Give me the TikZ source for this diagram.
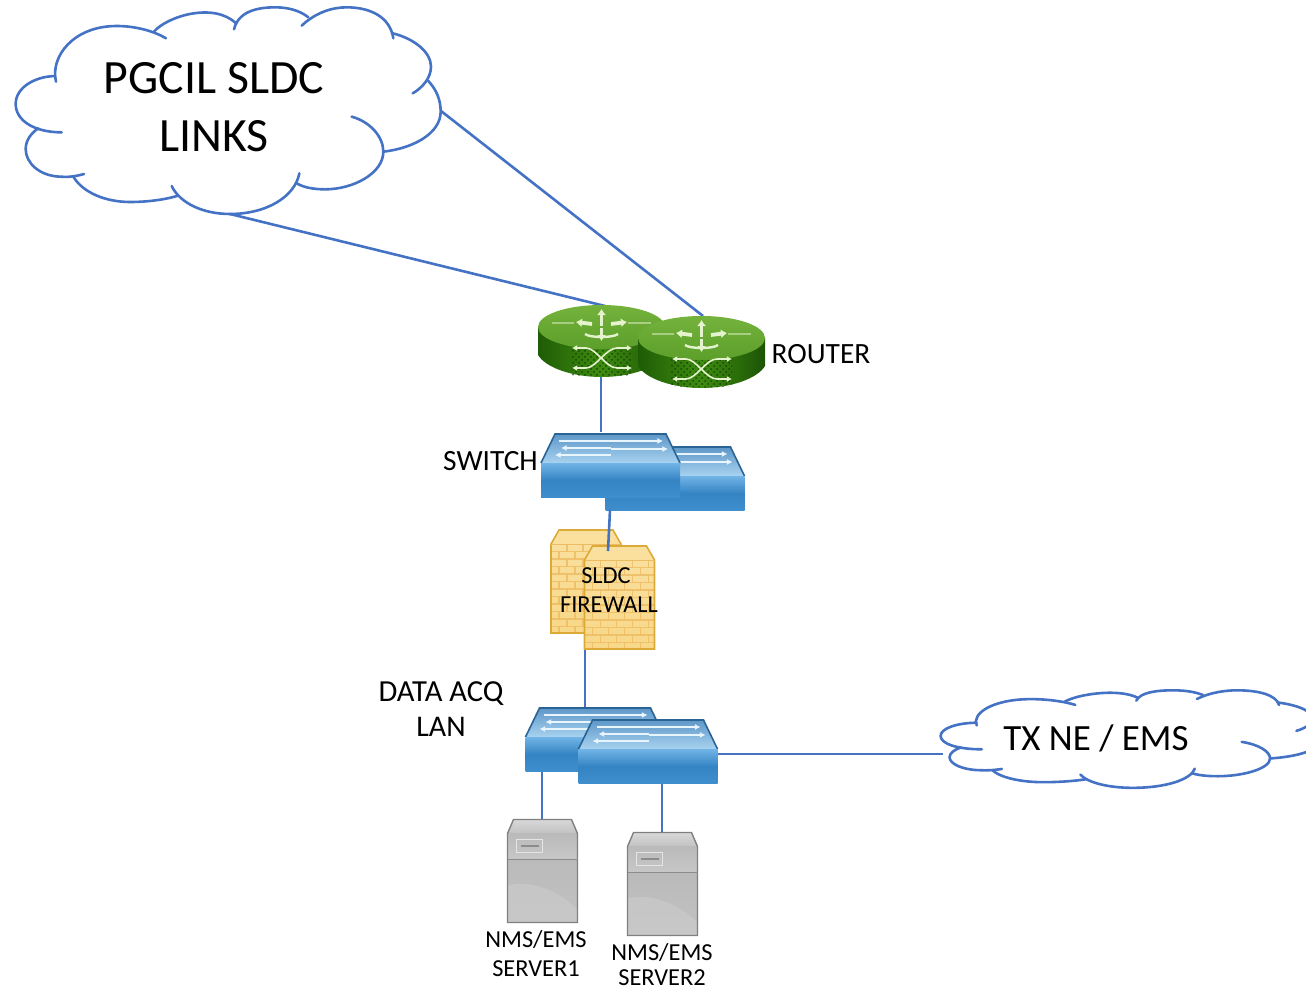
\documentclass[tikz,border=0pt]{standalone}
\usepackage{fontspec}
\setmainfont{Carlito}
\usetikzlibrary{arrows.meta,patterns}
\definecolor{linkblue}{HTML}{4472C4}
\definecolor{rtTopA}{HTML}{74B23C}
\definecolor{rtTopB}{HTML}{5C9F2A}
\definecolor{rtEdgeL}{HTML}{1F5C06}
\definecolor{rtMid}{HTML}{3E8C10}
\definecolor{rtEdgeR}{HTML}{1C5405}
\definecolor{rtDot}{HTML}{174A03}
\definecolor{rtPale}{HTML}{E4F3CE}
\definecolor{swEdge}{HTML}{2A6496}
\definecolor{swTopA}{HTML}{5E97C8}
\definecolor{swTopB}{HTML}{A8D2F0}
\definecolor{swFrontA}{HTML}{72B4E6}
\definecolor{swFrontB}{HTML}{3484C4}
\definecolor{swFrontC}{HTML}{3F8ECE}
\definecolor{swArrow}{HTML}{E9F5FD}
\definecolor{fwA}{HTML}{FAE0A0}
\definecolor{fwB}{HTML}{F8D888}
\definecolor{fwLine}{HTML}{EDBB62}
\definecolor{fwEdge}{HTML}{DCAA36}
\tikzset{
  link/.style={draw=linkblue,line width=1.3pt},
  cloudline/.style={draw=linkblue,line width=1.3pt,line cap=round},
  lbl/.style={inner sep=0pt,align=center,text=black,font=\fontsize{14.7}{17}\selectfont},
  smalllbl/.style={inner sep=0pt,align=center,text=black,font=\fontsize{12.2}{14}\selectfont},
  pale/.style={draw=rtPale,line width=.7pt,-{Latex[length=2.6pt,width=3pt]}},
  fatpale/.style={draw=rtPale,line width=1.9pt,-{Latex[length=3pt,width=4.6pt]}},
  swarrow/.style={draw=swArrow,line width=.8pt,-{Latex[length=2.8pt,width=3pt]}}
}
\newcommand{\cloudshape}{%
  \draw[cloudline] (168,245) .. controls (150,170) and (220,78) .. (350,78) .. controls (410,78) and (465,95) .. (498,115);
  \draw[cloudline] (462,95) .. controls (500,50) and (640,5) .. (708,70);
  \draw[cloudline] (702,88) .. controls (715,35) and (770,22) .. (825,22) .. controls (880,22) and (910,40) .. (925,52);
  \draw[cloudline] (905,77) .. controls (950,35) and (1000,22) .. (1040,22) .. controls (1110,22) and (1170,50) .. (1180,115);
  \draw[cloudline] (1178,100) .. controls (1240,115) and (1293,155) .. (1293,200) .. controls (1293,235) and (1265,265) .. (1238,280);
  \draw[cloudline] (1285,243) .. controls (1310,270) and (1322,300) .. (1322,335) .. controls (1322,400) and (1240,445) .. (1150,455);
  \draw[cloudline] (1055,350) .. controls (1110,365) and (1150,410) .. (1150,455) .. controls (1150,520) and (1060,568) .. (975,568) .. controls (940,568) and (910,562) .. (890,550);
  \draw[cloudline] (898,520) .. controls (885,590) and (800,642) .. (690,642) .. controls (610,642) and (540,610) .. (515,558);
  \draw[cloudline] (535,587) .. controls (490,600) and (440,606) .. (390,606) .. controls (320,606) and (250,580) .. (220,530);
  \draw[cloudline] (252,522) .. controls (225,530) and (200,532) .. (180,530) .. controls (120,528) and (77,490) .. (77,447) .. controls (77,420) and (95,398) .. (115,385);
  \draw[cloudline] (185,397) .. controls (100,397) and (47,360) .. (47,312) .. controls (47,265) and (100,230) .. (165,228);
}
% router: 127 x 72
\newcommand{\routericon}[2]{%
\begin{scope}[shift={(#1,#2)}]
  \path[left color=rtEdgeL,right color=rtEdgeR,middle color=rtMid]
    (0,22) -- (0,50) .. controls (8,63) and (35,72) .. (63.5,72) .. controls (92,72) and (119,63) .. (127,50) -- (127,22) -- cycle;
  \path[pattern=crosshatch dots,pattern color=rtDot]
    (33,38) -- (94,38) -- (94,70) .. controls (75,72) and (52,72) .. (33,70) -- cycle;
  \path[top color=rtTopA,bottom color=rtTopB]
    (0,22) .. controls (0,10) and (28,0) .. (63.5,0) .. controls (99,0) and (127,10) .. (127,22) .. controls (127,34) and (99,44) .. (63.5,44) .. controls (28,44) and (0,34) .. (0,22) -- cycle;
  \draw[rtPale,line width=.7pt,opacity=.5] (14,18) -- (36,18) (90,18) -- (113,18);
  \draw[fatpale] (63.5,21) -- (63.5,4);
  \draw[fatpale] (63.5,23) -- (63.5,36);
  \draw[rtPale,line width=1.2pt] (47,29) .. controls (52,33) and (75,33) .. (80,29);
  \draw[fatpale] (54,19) -- (38,17);
  \draw[fatpale] (73,19) -- (89,17);
  \draw[rtPale,line width=.8pt] (48,43) .. controls (58,43) and (68,63) .. (79,63)
                                 (79,43) .. controls (68,43) and (58,63) .. (48,63);
  \draw[pale] (48,43) -- (34,43);
  \draw[pale] (79,43) -- (94,43);
  \draw[pale] (48,63) -- (34,63);
  \draw[pale] (79,63) -- (94,63);
\end{scope}}
% switch: 139 x 63.5
\newcommand{\switchicon}[2]{%
\begin{scope}[shift={(#1,#2)}]
  \path[top color=swTopA,bottom color=swTopB]
    (14,0) -- (125,0) -- (139,29) -- (0,29) -- cycle;
  \draw[swEdge,line width=.8pt] (0,29) -- (14,0) -- (125,0) -- (139,29);
  \path[top color=swFrontA,bottom color=swFrontC,middle color=swFrontB]
    (0,29) rectangle (139,63.5);
  \draw[swarrow] (18,7) -- (122,7);
  \draw[swarrow] (70,15) -- (127,15);
  \draw[swarrow] (70,14) -- (20,14);
  \draw[swarrow] (70,21) -- (14,21);
\end{scope}}
% firewall: 70 x 103
\newcommand{\firewallicon}[2]{%
\begin{scope}[shift={(#1,#2)}]
  \path[top color=fwA,bottom color=fwB]
    (0,14) -- (8,0) -- (62,0) -- (70,14) -- (70,103) -- (0,103) -- cycle;
  \begin{scope}
    \clip (0,14) rectangle (70,103);
    \foreach \r in {0,...,11}{
      \draw[fwLine,line width=.7pt,opacity=.8] (0,{14+7.5*\r}) -- (70,{14+7.5*\r});
      \pgfmathsetmacro{\off}{mod(\r,2)*8}
      \foreach \c in {0,16,...,80}{
        \draw[fwLine,line width=.7pt,opacity=.8] ({\c+\off},{14+7.5*\r}) -- ({\c+\off},{21.5+7.5*\r});
      }
    }
  \end{scope}
  \draw[fwEdge,line width=.8pt] (0,14) -- (8,0) -- (62,0) -- (70,14) -- (70,103) -- (0,103) -- cycle;
  \draw[fwLine,line width=.5pt] (0,14) -- (70,14);
\end{scope}}
% server: 70 x 104
\newcommand{\servericon}[2]{%
\begin{scope}[shift={(#1,#2)}]
  \path[top color=black!15,bottom color=black!24]
    (0,14) -- (6,0) -- (64,0) -- (70,14) -- cycle;
  \path[top color=black!27,bottom color=black!22] (0,14) rectangle (70,40);
  \path[top color=black!27,bottom color=black!24] (0,40) rectangle (70,103);
  \path[fill=black!20,opacity=.6] (0,66) .. controls (25,60) and (52,72) .. (70,90) -- (70,103) -- (0,103) -- cycle;
  \draw[black!50,line width=.7pt] (0,14) -- (6,0) -- (64,0) -- (70,14) -- (70,103) -- (0,103) -- cycle;
  \draw[black!45,line width=.5pt] (0,40) -- (70,40);
  \draw[white!90!black,line width=.7pt] (9,20) rectangle (35,33);
  \draw[black!45,line width=.7pt] (13,26.5) -- (31,26.5);
\end{scope}}
\begin{document}
\begin{tikzpicture}[x=0.5pt,y=-0.5pt]
\useasboundingbox (0,0) rectangle (1306,990);
% clouds
\begin{scope}[xscale=1/3,yscale=1/3]
  \cloudshape
\end{scope}
\begin{scope}
  \clip (900,660) rectangle (1306,810);
  \begin{scope}[shift={(926.56,686.85)},xscale=0.2987,yscale=0.1573]
    \cloudshape
  \end{scope}
\end{scope}
% connector ends
\coordinate (cloudA) at (230,214);
\coordinate (cloudB) at (441,111);
\coordinate (routerA) at (605,306);
\coordinate (routerB) at (703,316);
\coordinate (routerAd) at (601,376);
\coordinate (switchAu) at (601,432);
\coordinate (switchBd) at (610,510);
\coordinate (fwBu) at (608,551);
\coordinate (fwBd) at (585,649);
\coordinate (lanAu) at (585,708);
\coordinate (lanAd) at (542,771);
\coordinate (srvAu) at (542,820);
\coordinate (lanBd) at (662,782);
\coordinate (srvBu) at (662,833);
\coordinate (lanBr) at (718,754);
\coordinate (cloudC) at (943,754);
% links behind icons
\draw[link] (cloudA) -- (routerA);
\draw[link] (cloudB) -- (routerB);
\draw[link] (routerAd) -- (switchAu);
\draw[link] (fwBd) -- (lanAu);
\draw[link] (lanAd) -- (srvAu);
\draw[link] (lanBd) -- (srvBu);
\draw[link] (lanBr) -- (cloudC);
% icons
\routericon{538}{305}
\routericon{638}{316}
\switchicon{605.5}{447}
\switchicon{541}{434}
\firewallicon{551}{530}
\firewallicon{584.5}{546}
\switchicon{525.5}{708}
\switchicon{578.5}{720}
\servericon{507.5}{819.5}
\servericon{627.5}{832.5}
\draw[link] (switchBd) -- (fwBu);
% labels
\node[inner sep=0pt,align=center,font=\fontsize{23.9}{29}\selectfont] (lblcloud) at (214,107) {PGCIL SLDC\\LINKS};
\node[inner sep=0pt,font=\fontsize{18.5}{22}\selectfont] (lbltx) at (1096,738) {TX NE / EMS};
\node[lbl] (lblrouter) at (821,354) {ROUTER};
\node[lbl] (lblswitch) at (490.5,461) {SWITCH};
\node[lbl,font=\fontsize{12.2}{14}\selectfont] (lblfw1) at (606,575.5) {SLDC};
\node[lbl,font=\fontsize{12.2}{14}\selectfont] (lblfw2) at (609,604.5) {FIREWALL};
\node[lbl,font=\fontsize{15.3}{18}\selectfont] (lbllan1) at (441,693.5) {DATA ACQ};
\node[lbl,font=\fontsize{15}{18}\selectfont] (lbllan2) at (441,727) {LAN};
\node[smalllbl] (lblsrv1a) at (536,940) {NMS/EMS};
\node[smalllbl] (lblsrv1b) at (536,968.5) {SERVER1};
\node[smalllbl] (lblsrv2a) at (662,953) {NMS/EMS};
\node[smalllbl] (lblsrv2b) at (662,977.5) {SERVER2};
\end{tikzpicture}
\end{document}
